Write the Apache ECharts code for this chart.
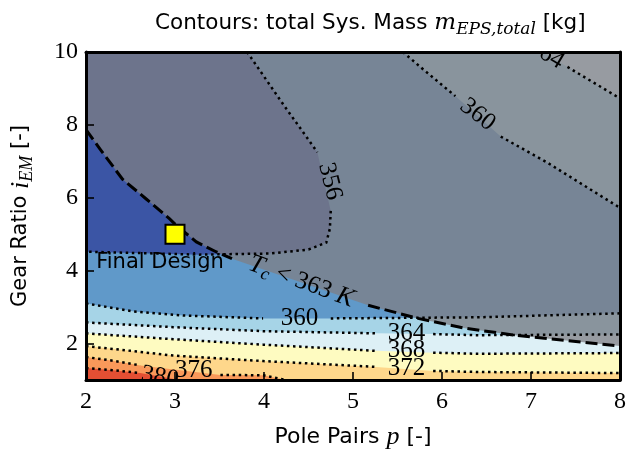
<!DOCTYPE html>
<html><head><meta charset="utf-8">
<script src="https://cdn.jsdelivr.net/npm/echarts@6/dist/echarts.min.js"></script>
<style>html,body{margin:0;padding:0;background:#fff}#c{width:629px;height:455px}</style>
</head><body><div id="c"></div>
<script>
// ---- data ----
const xTicks = [2, 3, 4, 5, 6, 7, 8];
const yTicks = [2, 4, 6, 8, 10];
const xRange = [2, 8];
const yRange = [1, 10];
// contour lines of total system mass [kg]; null = gap under inline label
const c356  = [[3.81,10],[4.22,8.55],[4.60,7.25],null,[4.75,5.64],[4.74,5.15],[4.70,4.77],[4.50,4.58],[4.06,4.47],[3.27,4.44],[2,4.52]];
const c360a = [[2,3.10],[2.54,2.88],[3.09,2.77],[3.99,2.69],null,[4.75,2.69],[6.40,2.72],[8,2.83]];
const c360b = [[5.56,10],[5.81,9.48],[6.15,8.79],null,[6.66,7.68],[7.18,6.97],[7.97,5.77],[8,5.73]];
const c364a = [[2,2.58],[2.98,2.45],[3.99,2.34],[5.26,2.28],null,[5.90,2.26],[6.40,2.23],[8,2.25]];
const c364b = [[7.13,10],null,[7.41,9.59],[7.97,8.77],[8,8.72]];
const c368  = [[2,2.28],[2.98,2.12],[3.99,1.97],[5.26,1.80],null,[5.90,1.75],[6.40,1.72],[8,1.74]];
const c372  = [[2,1.93],[2.5,1.80],[2.98,1.67],[3.99,1.52],[5.26,1.36],null,[5.90,1.25],[6.40,1.22],[8,1.19]];
const c376  = [[2,1.63],[2.3,1.53],[2.61,1.40],null,[3.51,1.14],[3.99,1.13],[4.25,1.0]];
const c380  = [[2,1.33],[2.3,1.27],[2.61,1.19],null,[3.05,1.0]];
// Tc = 363 K boundary (dashed)
const tcBoundary = [[2,7.87],[2.16,7.33],[2.41,6.51],[2.68,5.96],[2.94,5.42],[3.02,5.23],[3.24,4.79],[3.46,4.52],[3.64,4.33],null,[5.17,3.05],[5.73,2.69],[6.26,2.42],[6.82,2.23],[8,1.93]];
// contour label values and anchor points
const labelTexts  = ['356','360','364','360','364','368','372','380','376'];
const labelPoints = [[4.74,6.45],[6.40,8.28],[7.17,9.95],[4.40,2.69],[5.60,2.28],[5.60,1.80],[5.60,1.32],[2.83,1.08],[3.21,1.27]];
const labelAngles = [-76,-38,-31,0,0,0,0,-10,0];
// final design point
const finalDesign = [[3, 5]];
const tcLabelPoint = [4.42, 3.70];

// ---- styling ----
const levelColors = {
  base:'#3b55a5', l356:'#6099c9', l360:'#a6d4e7', l364:'#ddf0f6',
  l368:'#fefbc1', l372:'#fed78b', l376:'#f9995a', l380:'#e34f33'
};
const X0=xRange[0], X1=xRange[1], Y0=yRange[0], Y1=yRange[1];
const fills = [
  {pts:[[X0,Y0],[X1,Y0],[X1,Y1],[X0,Y1]], side:'none', color:levelColors.base},
  {pts:c356, side:'rightbelow', color:levelColors.l356},
  {pts:c360a, side:'below', color:levelColors.l360},
  {pts:c360b, side:'topright', color:levelColors.l360},
  {pts:c364a, side:'below', color:levelColors.l364},
  {pts:c364b, side:'topright', color:levelColors.l364},
  {pts:c368, side:'below', color:levelColors.l368},
  {pts:c372, side:'below', color:levelColors.l372},
  {pts:c376, side:'below', color:levelColors.l376},
  {pts:c380, side:'below', color:levelColors.l380},
  {pts:tcBoundary, side:'above', color:'rgba(127,127,132,0.75)'}
];
function closeShape(d){
  const p = d.pts.filter(v => v);
  const f = p[0], l = p[p.length-1];
  let extra = [];
  if (d.side==='below') extra = [[l[0],Y0],[f[0],Y0]];
  else if (d.side==='topright') extra = [[X1,Y1]];
  else if (d.side==='rightbelow') extra = [[X0,Y0],[X1,Y0],[X1,Y1]];
  else if (d.side==='above') extra = [[X1,Y1],[X0,Y1]];
  return p.concat(extra);
}
function segments(pts){
  const out=[]; let cur=[];
  pts.forEach(p=>{ if(p){cur.push(p);} else { if(cur.length) out.push(cur); cur=[]; } });
  if(cur.length) out.push(cur);
  return out;
}
const dotted = {lineWidth:2.5, lineDash:[2.5,3.6]};
const strokes = [
  {pts:c356, s:dotted},{pts:c360a, s:dotted},{pts:c360b, s:dotted},{pts:c364a, s:dotted},{pts:c364b, s:dotted},
  {pts:c368, s:dotted},{pts:c372, s:dotted},{pts:c376, s:dotted},{pts:c380, s:dotted},
  {pts:tcBoundary, s:{lineWidth:3, lineDash:[12,5]}}
];
const serif = 'Liberation Serif';
const mathSerif = 'DejaVu Serif';
const sans = 'DejaVu Sans';

const chart = echarts.init(document.getElementById('c'), null, {renderer:'canvas'});
const axisCommon = {
  type:'value', z:10,
  splitLine:{show:false},
  axisLine:{show:true, onZero:false, lineStyle:{color:'#000', width:3}}
};
chart.setOption({
  animation:false,
  backgroundColor:'#fff',
  title:{
    text:'{a|Contours: total Sys. Mass }{m|m}{s|EPS,total}{a| [kg]}',
    left:150, top:3,
    textStyle:{fontWeight:'normal', rich:{
      a:{fontFamily:sans, fontWeight:'normal', fontSize:21.5, color:'#000', lineHeight:30},
      m:{fontFamily:mathSerif, fontWeight:'normal', fontStyle:'italic', fontSize:23, color:'#000', lineHeight:30},
      s:{fontFamily:mathSerif, fontWeight:'normal', fontStyle:'italic', fontSize:17, color:'#000', lineHeight:17, verticalAlign:'bottom'}
    }}
  },
  grid:{left:86, right:6, top:52, bottom:73, containLabel:false},
  xAxis:[
    Object.assign({}, axisCommon, {
      min:X0, max:X1, interval:1, position:'bottom',
      name:'{a|Pole Pairs }{m|p}{a| [-]}', nameLocation:'middle', nameGap:43,
      nameTextStyle:{rich:{
        a:{fontFamily:sans, fontSize:22, color:'#000', lineHeight:28},
        m:{fontFamily:serif, fontStyle:'italic', fontSize:26, color:'#000', lineHeight:28}
      }},
      axisTick:{show:true, inside:true, length:8, lineStyle:{color:'#000', width:1.6}, customValues:xTicks},
      axisLabel:{fontFamily:serif, fontSize:24, color:'#000', margin:10, customValues:xTicks}
    }),
    Object.assign({}, axisCommon, {
      min:X0, max:X1, position:'top', axisTick:{show:false}, axisLabel:{show:false}
    })
  ],
  yAxis:[
    Object.assign({}, axisCommon, {
      min:Y0, max:Y1, position:'left',
      name:'{a|Gear Ratio }{m|i}{s|EM}{a| [-]}', nameLocation:'middle', nameGap:50, nameRotate:90,
      nameTextStyle:{rich:{
        a:{fontFamily:sans, fontSize:21, color:'#000', lineHeight:30},
        m:{fontFamily:serif, fontStyle:'italic', fontSize:26, color:'#000', lineHeight:30},
        s:{fontFamily:serif, fontStyle:'italic', fontSize:18, color:'#000', lineHeight:18, verticalAlign:'bottom'}
      }},
      axisTick:{show:true, inside:true, length:8, lineStyle:{color:'#000', width:1.6}, customValues:yTicks},
      axisLabel:{fontFamily:serif, fontSize:24, color:'#000', margin:8, customValues:yTicks}
    }),
    Object.assign({}, axisCommon, {
      min:Y0, max:Y1, position:'right', axisTick:{show:false}, axisLabel:{show:false}
    })
  ],
  series:[
    {
      type:'custom', coordinateSystem:'cartesian2d', xAxisIndex:0, yAxisIndex:0, clip:true, silent:true, z:1,
      data: fills.map((f,i)=>[X0,Y0,i]),
      encode:{x:0,y:1},
      renderItem:(params, api)=>{
        const d = fills[params.dataIndex];
        return {type:'polygon', shape:{points: closeShape(d).map(p=>api.coord(p))}, style:{fill:d.color, stroke:null}};
      }
    },
    {
      type:'custom', coordinateSystem:'cartesian2d', clip:true, silent:true, z:3,
      data: strokes.map((s,i)=>[X0,Y0,i]),
      encode:{x:0,y:1},
      renderItem:(params, api)=>{
        const d = strokes[params.dataIndex];
        return {type:'group', children: segments(d.pts).map(seg=>({
          type:'polyline', shape:{points: seg.map(p=>api.coord(p))},
          style:{stroke:'#000', fill:null, lineWidth:d.s.lineWidth, lineDash:d.s.lineDash, lineCap:'butt'}
        }))};
      }
    },
    {
      type:'custom', coordinateSystem:'cartesian2d', clip:true, silent:true, z:4,
      data: labelPoints.map(p=>[p[0],p[1]]),
      encode:{x:0,y:1},
      renderItem:(params, api)=>{
        const i = params.dataIndex;
        const c = api.coord(labelPoints[i]);
        return {type:'text', x:c[0], y:c[1], rotation: labelAngles[i]*Math.PI/180,
          style:{text:labelTexts[i], fontFamily:serif, fontSize:25, fill:'#000', align:'center', verticalAlign:'middle'}};
      }
    },
    {
      type:'custom', coordinateSystem:'cartesian2d', clip:false, silent:true, z:4,
      data:[tcLabelPoint],
      encode:{x:0,y:1},
      renderItem:(params, api)=>{
        const c = api.coord(tcLabelPoint);
        return {type:'text', x:c[0], y:c[1], rotation:-20*Math.PI/180,
          style:{text:'{t|T}{s|c}{n| < 363 }{t|K}', align:'center', verticalAlign:'middle',
            rich:{
              t:{fontFamily:serif, fontStyle:'italic', fontSize:26, fill:'#000', lineHeight:30},
              n:{fontFamily:serif, fontSize:25, fill:'#000', lineHeight:30},
              s:{fontFamily:serif, fontStyle:'italic', fontSize:18, fill:'#000', lineHeight:18, verticalAlign:'bottom'}
            }}};
      }
    },
    {
      type:'scatter', z:6, silent:true,
      data: finalDesign,
      symbol:'rect', symbolSize:19,
      itemStyle:{color:'#ffff00', borderColor:'#000', borderWidth:2, opacity:1},
      label:{show:true, formatter:'Final Design', position:'bottom', distance:3, offset:[-15,4],
        fontFamily:sans, fontSize:21, color:'#000'}
    }
  ]
});
</script>
</body></html>
